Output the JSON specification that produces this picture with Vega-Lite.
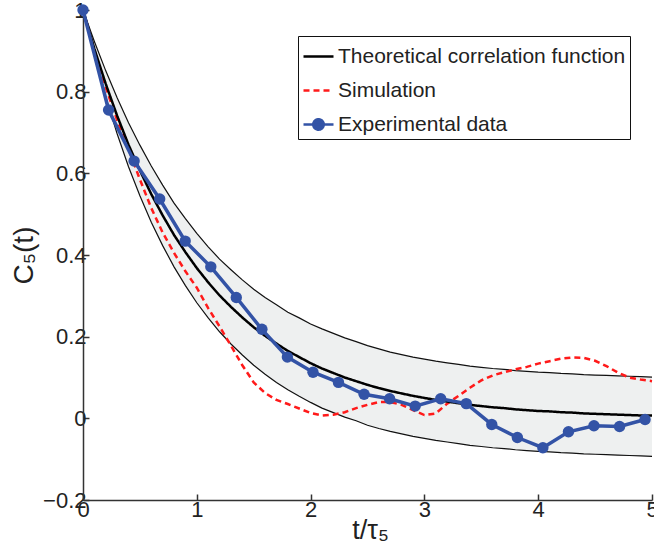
{
  "$schema": "https://vega.github.io/schema/vega-lite/v6.json",
  "width": 569,
  "height": 490,
  "autosize": {"type": "none"},
  "padding": {"left": 83, "top": 10, "right": 2, "bottom": 58},
  "background": "white",
  "config": {
    "view": {"stroke": null},
    "font": "Liberation Sans"
  },
  "datasets": {
    "curves": [
      {"t": 0.0, "theory": 1.0, "hi": 1.0, "lo": 1.0, "sim": 1.0},
      {"t": 0.1, "theory": 0.905, "hi": 0.923, "lo": 0.887, "sim": 0.9},
      {"t": 0.2, "theory": 0.819, "hi": 0.851, "lo": 0.787, "sim": 0.81},
      {"t": 0.3, "theory": 0.741, "hi": 0.785, "lo": 0.697, "sim": 0.73},
      {"t": 0.4, "theory": 0.670, "hi": 0.724, "lo": 0.616, "sim": 0.66},
      {"t": 0.5, "theory": 0.607, "hi": 0.669, "lo": 0.545, "sim": 0.585},
      {"t": 0.6, "theory": 0.549, "hi": 0.618, "lo": 0.480, "sim": 0.515},
      {"t": 0.7, "theory": 0.497, "hi": 0.571, "lo": 0.423, "sim": 0.455},
      {"t": 0.8, "theory": 0.449, "hi": 0.527, "lo": 0.371, "sim": 0.405},
      {"t": 0.9, "theory": 0.407, "hi": 0.489, "lo": 0.325, "sim": 0.36},
      {"t": 1.0, "theory": 0.368, "hi": 0.453, "lo": 0.283, "sim": 0.32},
      {"t": 1.1, "theory": 0.333, "hi": 0.420, "lo": 0.246, "sim": 0.27},
      {"t": 1.2, "theory": 0.301, "hi": 0.390, "lo": 0.212, "sim": 0.225},
      {"t": 1.3, "theory": 0.273, "hi": 0.364, "lo": 0.182, "sim": 0.178},
      {"t": 1.4, "theory": 0.247, "hi": 0.339, "lo": 0.155, "sim": 0.13},
      {"t": 1.5, "theory": 0.223, "hi": 0.316, "lo": 0.130, "sim": 0.088},
      {"t": 1.6, "theory": 0.202, "hi": 0.296, "lo": 0.108, "sim": 0.062},
      {"t": 1.7, "theory": 0.183, "hi": 0.278, "lo": 0.088, "sim": 0.045},
      {"t": 1.8, "theory": 0.165, "hi": 0.260, "lo": 0.070, "sim": 0.035},
      {"t": 1.9, "theory": 0.150, "hi": 0.246, "lo": 0.054, "sim": 0.024},
      {"t": 2.0, "theory": 0.135, "hi": 0.231, "lo": 0.039, "sim": 0.013},
      {"t": 2.1, "theory": 0.122, "hi": 0.219, "lo": 0.025, "sim": 0.007},
      {"t": 2.2, "theory": 0.111, "hi": 0.208, "lo": 0.014, "sim": 0.009},
      {"t": 2.3, "theory": 0.100, "hi": 0.197, "lo": 0.003, "sim": 0.015},
      {"t": 2.4, "theory": 0.091, "hi": 0.188, "lo": -0.006, "sim": 0.025},
      {"t": 2.5, "theory": 0.082, "hi": 0.178, "lo": -0.017, "sim": 0.033},
      {"t": 2.6, "theory": 0.074, "hi": 0.170, "lo": -0.025, "sim": 0.04},
      {"t": 2.7, "theory": 0.067, "hi": 0.162, "lo": -0.032, "sim": 0.04},
      {"t": 2.8, "theory": 0.061, "hi": 0.156, "lo": -0.038, "sim": 0.033},
      {"t": 2.9, "theory": 0.055, "hi": 0.150, "lo": -0.044, "sim": 0.02},
      {"t": 3.0, "theory": 0.050, "hi": 0.145, "lo": -0.049, "sim": 0.008},
      {"t": 3.1, "theory": 0.045, "hi": 0.140, "lo": -0.054, "sim": 0.012},
      {"t": 3.2, "theory": 0.041, "hi": 0.136, "lo": -0.058, "sim": 0.036},
      {"t": 3.3, "theory": 0.037, "hi": 0.132, "lo": -0.062, "sim": 0.055},
      {"t": 3.4, "theory": 0.033, "hi": 0.128, "lo": -0.066, "sim": 0.075},
      {"t": 3.5, "theory": 0.030, "hi": 0.125, "lo": -0.069, "sim": 0.093},
      {"t": 3.6, "theory": 0.027, "hi": 0.122, "lo": -0.072, "sim": 0.105},
      {"t": 3.7, "theory": 0.025, "hi": 0.120, "lo": -0.074, "sim": 0.113},
      {"t": 3.8, "theory": 0.022, "hi": 0.117, "lo": -0.077, "sim": 0.12},
      {"t": 3.9, "theory": 0.020, "hi": 0.115, "lo": -0.079, "sim": 0.126},
      {"t": 4.0, "theory": 0.018, "hi": 0.113, "lo": -0.081, "sim": 0.134},
      {"t": 4.1, "theory": 0.017, "hi": 0.112, "lo": -0.082, "sim": 0.14},
      {"t": 4.2, "theory": 0.015, "hi": 0.110, "lo": -0.084, "sim": 0.146},
      {"t": 4.3, "theory": 0.014, "hi": 0.109, "lo": -0.085, "sim": 0.149},
      {"t": 4.4, "theory": 0.012, "hi": 0.107, "lo": -0.087, "sim": 0.148},
      {"t": 4.5, "theory": 0.011, "hi": 0.106, "lo": -0.088, "sim": 0.141},
      {"t": 4.6, "theory": 0.010, "hi": 0.105, "lo": -0.089, "sim": 0.128},
      {"t": 4.7, "theory": 0.009, "hi": 0.104, "lo": -0.090, "sim": 0.112},
      {"t": 4.8, "theory": 0.008, "hi": 0.103, "lo": -0.091, "sim": 0.1},
      {"t": 4.9, "theory": 0.007, "hi": 0.102, "lo": -0.092, "sim": 0.095},
      {"t": 5.0, "theory": 0.007, "hi": 0.101, "lo": -0.093, "sim": 0.091}
    ],
    "exp": [
      {"t": 0.000, "exp": 1.000},
      {"t": 0.225, "exp": 0.755},
      {"t": 0.449, "exp": 0.630},
      {"t": 0.674, "exp": 0.537},
      {"t": 0.898, "exp": 0.434},
      {"t": 1.123, "exp": 0.371},
      {"t": 1.347, "exp": 0.296},
      {"t": 1.572, "exp": 0.218},
      {"t": 1.796, "exp": 0.150},
      {"t": 2.021, "exp": 0.113},
      {"t": 2.245, "exp": 0.088},
      {"t": 2.470, "exp": 0.059},
      {"t": 2.694, "exp": 0.048},
      {"t": 2.919, "exp": 0.030},
      {"t": 3.143, "exp": 0.048},
      {"t": 3.368, "exp": 0.036},
      {"t": 3.592, "exp": -0.015},
      {"t": 3.817, "exp": -0.047},
      {"t": 4.041, "exp": -0.072},
      {"t": 4.266, "exp": -0.033},
      {"t": 4.490, "exp": -0.018},
      {"t": 4.715, "exp": -0.020},
      {"t": 4.939, "exp": -0.003}
    ]
  },
  "layer": [
    {
      "data": {"name": "curves"},
      "mark": {"type": "area", "color": "#eef0f0", "opacity": 1},
      "encoding": {
        "x": {
          "field": "t", "type": "quantitative", "title": "t/τ₅",
          "scale": {"domain": [0, 5], "nice": false, "zero": false},
          "axis": {
            "values": [0, 1, 2, 3, 4, 5], "format": "~g",
            "domainColor": "#333333", "domainWidth": 1.5,
            "tickColor": "#333333", "tickWidth": 1.5, "tickSize": -6,
            "labelFont": "Liberation Sans", "labelFontSize": 22, "labelColor": "#222222",
            "labelFlush": false, "labelOverlap": false, "labelPadding": 5, "grid": false,
            "titleFont": "Liberation Sans", "titleFontSize": 27, "titleFontWeight": "normal", "titleColor": "#222222",
            "titlePadding": 0, "titleY": 17, "titleX": 287, "titleBaseline": "top"
          }
        },
        "y": {
          "field": "lo", "type": "quantitative", "title": "C₅(t)",
          "scale": {"domain": [-0.2, 1], "nice": false, "zero": false},
          "axis": {
            "values": [-0.2, 0, 0.2, 0.4, 0.6, 0.8, 1], "format": "~g",
            "domainColor": "#333333", "domainWidth": 1.5,
            "tickColor": "#333333", "tickWidth": 1.5, "tickSize": -6,
            "labelFont": "Liberation Sans", "labelFontSize": 22, "labelColor": "#222222",
            "labelFlush": false, "labelOverlap": false, "labelPadding": 3, "grid": false,
            "titleFont": "Liberation Sans", "titleFontSize": 28, "titleFontWeight": "normal", "titleColor": "#222222",
            "titlePadding": 4
          }
        },
        "y2": {"field": "hi"}
      }
    },
    {
      "data": {"name": "curves"},
      "mark": {"type": "line", "color": "#111111", "strokeWidth": 1.2},
      "encoding": {
        "x": {"field": "t", "type": "quantitative", "title": "t/τ₅"},
        "y": {"field": "hi", "type": "quantitative", "title": "C₅(t)"}
      }
    },
    {
      "data": {"name": "curves"},
      "mark": {"type": "line", "color": "#111111", "strokeWidth": 1.2},
      "encoding": {
        "x": {"field": "t", "type": "quantitative", "title": "t/τ₅"},
        "y": {"field": "lo", "type": "quantitative", "title": "C₅(t)"}
      }
    },
    {
      "data": {"name": "curves"},
      "transform": [{"fold": ["sim", "theory"], "as": ["key", "val"]}],
      "mark": {"type": "line", "strokeWidth": 2.5},
      "encoding": {
        "x": {"field": "t", "type": "quantitative", "title": "t/τ₅"},
        "y": {"field": "val", "type": "quantitative", "title": "C₅(t)"},
        "color": {
          "field": "key", "type": "nominal",
          "scale": {"domain": ["theory", "sim", "exp"], "range": ["#000000", "#ff1a1a", "#3353a6"]},
          "legend": {
            "title": null,
            "orient": "none",
            "legendX": 215,
            "legendY": 26,
            "direction": "vertical",
            "labelExpr": "datum.value === 'theory' ? 'Theoretical correlation function' : datum.value === 'sim' ? 'Simulation' : 'Experimental data'",
            "labelFont": "Liberation Sans",
            "labelFontSize": 21,
            "labelColor": "#222222",
            "labelOffset": 3,
            "labelLimit": 0,
            "symbolSize": 900,
            "rowPadding": 7,
            "padding": 4,
            "strokeColor": "#111111",
            "fillColor": "white",
            "encode": {
              "symbols": {
                "update": {
                  "shape": {"signal": "datum.value === 'exp' ? 'M-1,0H1M0.35,0A0.35,0.35,0,1,1,-0.35,0A0.35,0.35,0,1,1,0.35,0Z' : 'M-1,0H1'"},
                  "strokeDash": {"signal": "datum.value === 'sim' ? [6,4] : [1,0]"},
                  "fill": {"scale": "color", "field": "value"},
                  "stroke": {"scale": "color", "field": "value"},
                  "strokeWidth": {"value": 2.5},
                  "size": {"value": 900},
                  "opacity": {"value": 1},
                  "fillOpacity": {"value": 1},
                  "strokeOpacity": {"value": 1}
                }
              }
            }
          }
        },
        "strokeDash": {
          "field": "key", "type": "nominal",
          "scale": {"domain": ["theory", "sim", "exp"], "range": [[1, 0], [6, 4], [1, 0]]},
          "legend": null
        }
      }
    },
    {
      "data": {"name": "exp"},
      "transform": [{"fold": ["exp"], "as": ["key", "val"]}],
      "mark": {"type": "line", "strokeWidth": 3.5, "point": {"filled": true, "size": 130, "opacity": 1}},
      "encoding": {
        "x": {"field": "t", "type": "quantitative", "title": "t/τ₅"},
        "y": {"field": "val", "type": "quantitative", "title": "C₅(t)"},
        "color": {"field": "key", "type": "nominal", "scale": {"domain": ["theory", "sim", "exp"], "range": ["#000000", "#ff1a1a", "#3353a6"]}}
      }
    }
  ]
}
